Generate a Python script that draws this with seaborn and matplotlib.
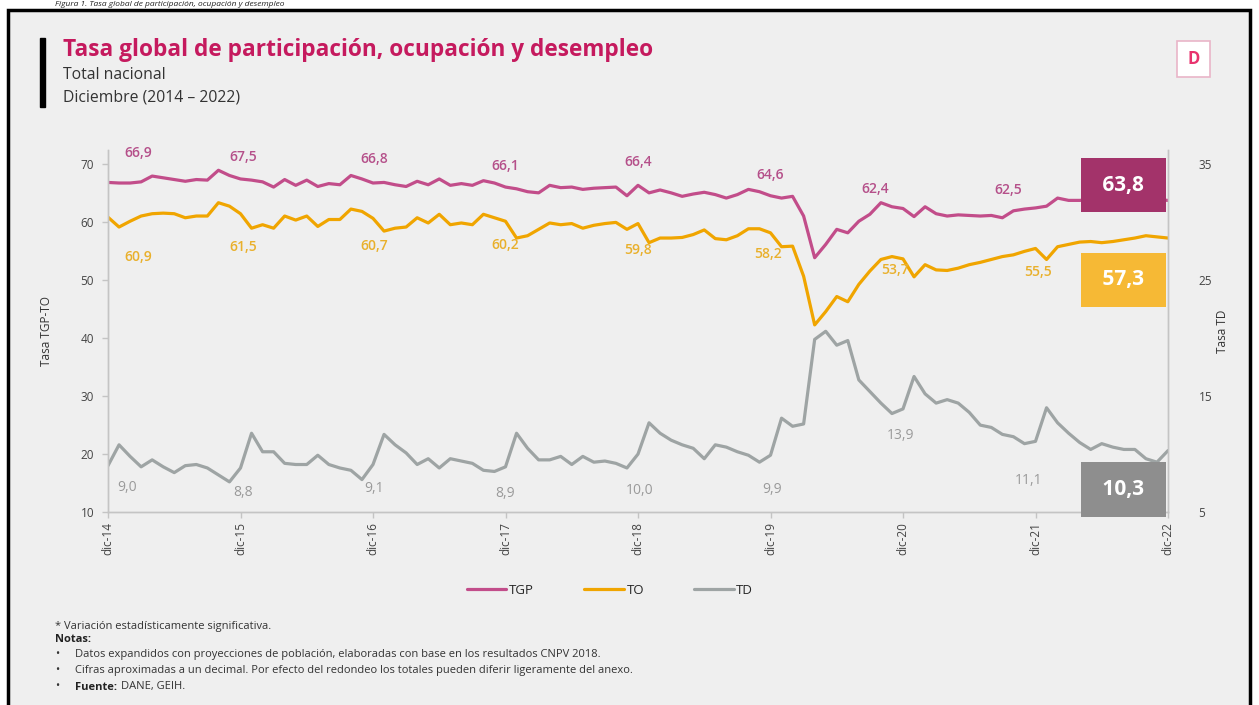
import numpy as np
import pandas as pd
import matplotlib
matplotlib.use("Agg")
import matplotlib.pyplot as plt
import seaborn as sns
from matplotlib.patches import Rectangle
from matplotlib.lines import Line2D

# monthly values, dic-14 .. dic-22
tgp = [66.9, 66.8, 66.8, 67.0, 68.0, 67.7, 67.4, 67.1, 67.4, 67.3, 69.0, 68.1,
       67.5, 67.3, 67.0, 66.1, 67.4, 66.4, 67.3, 66.2, 66.7, 66.5, 68.1, 67.5,
       66.8, 66.9, 66.5, 66.2, 67.1, 66.5, 67.5, 66.4, 66.7, 66.4, 67.2, 66.8,
       66.1, 65.8, 65.3, 65.1, 66.4, 66.0, 66.1, 65.7, 65.9, 66.0, 66.1, 64.6,
       66.4, 65.1, 65.6, 65.1, 64.5, 64.9, 65.2, 64.8, 64.2, 64.8, 65.7, 65.3,
       64.6, 64.2, 64.5, 61.1, 53.9, 56.2, 58.8, 58.2, 60.2, 61.4, 63.4, 62.7,
       62.4, 61.0, 62.7, 61.5, 61.1, 61.3, 61.2, 61.1, 61.2, 60.8, 62.0, 62.3,
       62.5, 62.8, 64.2, 63.8, 63.8, 63.9, 63.7, 63.9, 64.0, 63.8, 64.1, 63.9,
       63.8]
to = [60.9, 59.2, 60.2, 61.1, 61.5, 61.6, 61.5, 60.8, 61.1, 61.1, 63.4, 62.8,
      61.5, 59.0, 59.6, 59.0, 61.1, 60.4, 61.1, 59.3, 60.5, 60.5, 62.3, 61.9,
      60.7, 58.5, 59.0, 59.2, 60.8, 59.9, 61.4, 59.6, 59.9, 59.6, 61.4, 60.8,
      60.2, 57.3, 57.7, 58.8, 59.9, 59.6, 59.8, 59.0, 59.5, 59.8, 60.0, 58.8,
      59.8, 56.5, 57.3, 57.3, 57.4, 57.9, 58.7, 57.2, 57.0, 57.7, 58.9, 58.9,
      58.2, 55.8, 55.9, 50.7, 42.3, 44.6, 47.2, 46.3, 49.3, 51.6, 53.6, 54.1,
      53.7, 50.6, 52.7, 51.8, 51.7, 52.1, 52.7, 53.1, 53.6, 54.1, 54.4, 55.0,
      55.5, 53.6, 55.8, 56.2, 56.6, 56.7, 56.5, 56.7, 57.0, 57.3, 57.7, 57.5,
      57.3]
td = [9.0, 10.8, 9.8, 8.9, 9.5, 8.9, 8.4, 9.0, 9.1, 8.8, 8.2, 7.6,
      8.8, 11.8, 10.2, 10.2, 9.2, 9.1, 9.1, 9.9, 9.1, 8.8, 8.6, 7.8,
      9.1, 11.7, 10.8, 10.1, 9.1, 9.6, 8.8, 9.6, 9.4, 9.2, 8.6, 8.5,
      8.9, 11.8, 10.5, 9.5, 9.5, 9.8, 9.1, 9.8, 9.3, 9.4, 9.2, 8.8,
      10.0, 12.7, 11.8, 11.2, 10.8, 10.5, 9.6, 10.8, 10.6, 10.2, 9.9, 9.3,
      9.9, 13.1, 12.4, 12.6, 19.9, 20.6, 19.4, 19.8, 16.4, 15.4, 14.4, 13.5,
      13.9, 16.7, 15.2, 14.4, 14.7, 14.4, 13.6, 12.5, 12.3, 11.7, 11.5, 10.9,
      11.1, 14.0, 12.7, 11.8, 11.0, 10.4, 10.9, 10.6, 10.4, 10.4, 9.6, 9.3,
      10.3]
tick_labels = ['dic-14', 'dic-15', 'dic-16', 'dic-17', 'dic-18',
               'dic-19', 'dic-20', 'dic-21', 'dic-22']

W, H = 1259, 705
c_title = '#c51a5e'
c_tgp, c_to, c_td = '#c24d8a', '#f0a500', '#9ea4a4'
c_tgp_lab, c_to_lab, c_td_lab = '#b5508a', '#e9b02c', '#9a9a9a'

sns.set_theme(style='white')
plt.rcParams['font.family'] = ['Open Sans', 'DejaVu Sans']

months = np.arange(len(tgp))
df = pd.DataFrame({'mes': months, 'TGP': tgp, 'TO': to, 'TD': td})

fig = plt.figure(figsize=(W / 100, H / 100), dpi=100)
fig.patch.set_facecolor('white')
fig.add_artist(Rectangle((8 / W, -0.01), 1242 / W, 1 - 10 / H + 0.01,
                         transform=fig.transFigure, facecolor='#efefef',
                         edgecolor='black', lw=2.5, zorder=0))

# header
fig.text(55 / W, 1 - 0.5 / H, 'Figura 1. Tasa global de participación, ocupación y desempleo',
         fontsize=6, style='italic', color='#222222', va='top')
fig.add_artist(Rectangle((40 / W, 1 - 107 / H), 5 / W, 69 / H,
                         transform=fig.transFigure, color='black'))
fig.text(63 / W, 1 - 50 / H, 'Tasa global de participación, ocupación y desempleo',
         fontsize=16.3, fontweight='bold', color=c_title, va='center')
fig.text(63 / W, 1 - 75 / H, 'Total nacional', fontsize=11.3, color='#333333', va='center')
fig.text(63 / W, 1 - 97 / H, 'Diciembre (2014 – 2022)', fontsize=11.3, color='#333333', va='center')

# logo
fig.add_artist(Rectangle((1177 / W, 1 - 77 / H), 33 / W, 36 / H, transform=fig.transFigure,
                         facecolor='white', edgecolor='#e9b5c8', lw=1.2))
fig.text(1193.5 / W, 1 - 59 / H, 'D', fontsize=12, fontweight='bold', color='#e8336e',
         ha='center', va='center')

ax = fig.add_axes([108 / W, 1 - 512 / H, 1060 / W, 362 / H])
ax.set_facecolor('none')
sns.lineplot(data=df, x='mes', y='TGP', ax=ax, color=c_tgp, lw=2.3, label='TGP')
sns.lineplot(data=df, x='mes', y='TO', ax=ax, color=c_to, lw=2.3, label='TO')
ax2 = ax.twinx()
sns.lineplot(data=df, x='mes', y='TD', ax=ax2, color=c_td, lw=2.3, label='TD')
ax.get_legend().remove()
ax2.get_legend().remove()

ax.set_xlim(0, len(tgp) - 1)
ax.set_ylim(10, 72.5)
ax2.set_ylim(5, 36.25)
ax.set_yticks([10, 20, 30, 40, 50, 60, 70])
ax2.set_yticks([5, 15, 25, 35])
dec_idx = list(range(0, len(tgp), 12))
ax.set_xticks(dec_idx)
ax.set_xticklabels(tick_labels, rotation=90)
ax.set_xlabel('')
ax.set_ylabel('Tasa TGP-TO', fontsize=8.5, color='#333333', labelpad=20)
ax2.set_ylabel('Tasa TD', fontsize=8.5, color='#333333', labelpad=3)

for a in (ax, ax2):
    for s in a.spines.values():
        s.set_color('#c4c4c4')
        s.set_linewidth(1)
    a.spines['top'].set_visible(False)
ax.tick_params(axis='both', colors='#c4c4c4', labelcolor='#444444', labelsize=8.5,
               length=4, width=1, direction='out')
ax.tick_params(axis='x', pad=3)
ax2.tick_params(axis='y', length=0, pad=22, labelcolor='#444444', labelsize=8.5)
ax.tick_params(axis='y', left=True, pad=6)
ax.tick_params(axis='x', bottom=True)

# december labels
tgp_off = [(22, 21), (2, 16), (1, 17), (0, 15.5), (0, 16.5), (0, 15), (-20, 14), (-19.5, 13)]
to_off = [(22, -29), (2, -24), (1, -20), (0, -17), (0, -19), (-2, -15), (-6, -8), (2, -17)]
td_off = [(14, -16), (2, -18), (1, -17), (0, -19), (1, -26), (1, -25), (-2, -19.5), (-5, -28)]
for k, i in enumerate(dec_idx[:-1]):
    ax.annotate(f'{tgp[i]:.1f}'.replace('.', ','), (i, tgp[i]), xytext=tgp_off[k],
                textcoords='offset points', ha='center', va='center',
                fontsize=10, fontweight='semibold', color=c_tgp_lab)
    ax.annotate(f'{to[i]:.1f}'.replace('.', ','), (i, to[i]), xytext=to_off[k],
                textcoords='offset points', ha='center', va='center',
                fontsize=10, fontweight='semibold', color=c_to_lab)
    ax2.annotate(f'{td[i]:.1f}'.replace('.', ','), (i, td[i]), xytext=td_off[k],
                 textcoords='offset points', ha='center', va='center',
                 fontsize=10, color=c_td_lab)

# last value boxes
last = len(tgp) - 1
box_kw = dict(textcoords='offset points', ha='center', va='center', fontsize=15,
              fontweight='bold', color='white', zorder=10, annotation_clip=False)
fmt_box = lambda v: ' ' + f'{v:.1f}'.replace('.', ',') + ' '
ax.annotate(fmt_box(tgp[last]), (last, tgp[last]), xytext=(-32, 11),
            bbox=dict(boxstyle='square,pad=0.8', fc='#a3336a', ec='none'), **box_kw)
ax.annotate(fmt_box(to[last]), (last, to[last]), xytext=(-32, -30),
            bbox=dict(boxstyle='square,pad=0.8', fc='#f6b935', ec='none'), **box_kw)
ax2.annotate(fmt_box(td[last]), (last, td[last]), xytext=(-32, -28),
             bbox=dict(boxstyle='square,pad=0.8', fc='#8e8e8e', ec='none'), **box_kw)

# legend
handles = [Line2D([], [], color=c, lw=2.3) for c in (c_tgp, c_to, c_td)]
fig.legend(handles, ['TGP', 'TO', 'TD'], loc='center', bbox_to_anchor=(610 / W, 1 - 590 / H),
           ncol=3, frameon=False, fontsize=9.5, handlelength=3, handletextpad=0.2,
           columnspacing=3.8)

# notes
fs = 8
fig.text(55 / W, 1 - 627 / H, '* Variación estadísticamente significativa.', fontsize=fs, color='#333333', va='center')
fig.text(55 / W, 1 - 640 / H, 'Notas:', fontsize=fs, fontweight='bold', color='#222222', va='center')
notes = ['Datos expandidos con proyecciones de población, elaboradas con base en los resultados CNPV 2018.',
         'Cifras aproximadas a un decimal. Por efecto del redondeo los totales pueden diferir ligeramente del anexo.']
for j, n in enumerate(notes):
    fig.text(55 / W, 1 - (655 + 16 * j) / H, '•', fontsize=fs, color='#333333', va='center')
    fig.text(75 / W, 1 - (655 + 16 * j) / H, n, fontsize=fs, color='#333333', va='center')
fig.text(55 / W, 1 - 687 / H, '•', fontsize=fs, color='#333333', va='center')
fig.text(75 / W, 1 - 687 / H, 'Fuente:', fontsize=fs, fontweight='bold', color='#222222', va='center')
fig.text(121 / W, 1 - 687 / H, 'DANE, GEIH.', fontsize=fs, color='#333333', va='center')

fig.savefig('out.png', dpi=100, facecolor=fig.get_facecolor())
